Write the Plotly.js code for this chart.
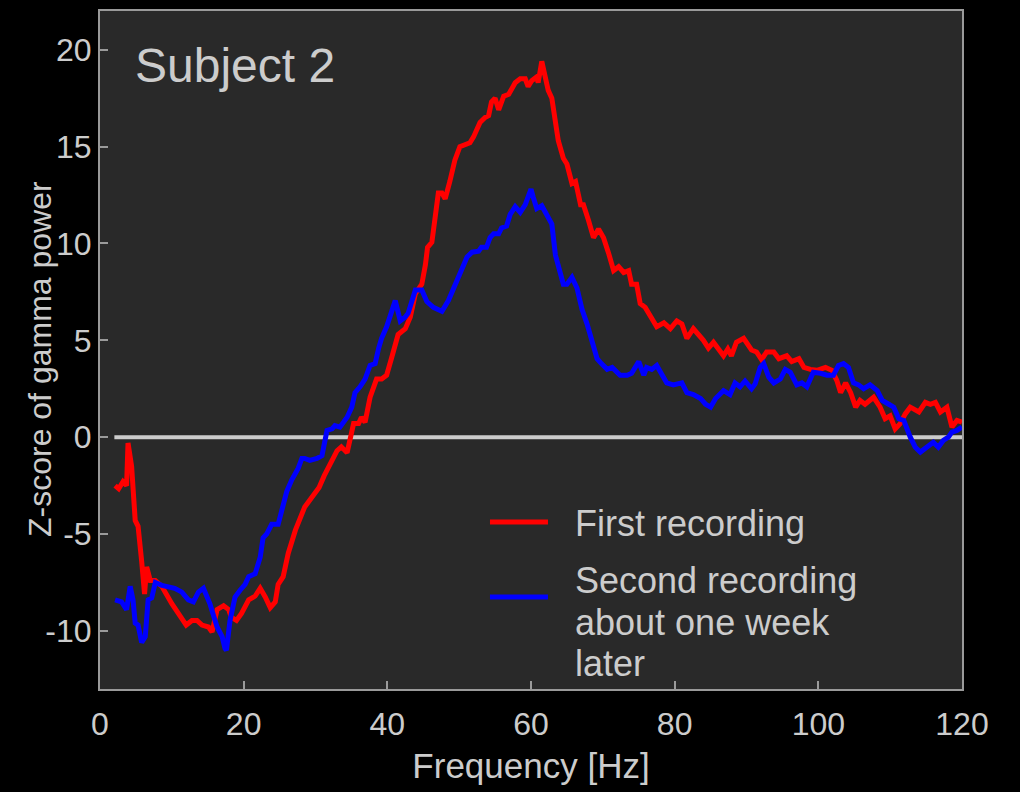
<!DOCTYPE html>
<html>
<head>
<meta charset="utf-8">
<script src="https://cdn.plot.ly/plotly-3.0.1.min.js"></script>
<style>html,body{margin:0;padding:0;background:#000;}#chart{width:1020px;height:792px;}</style>
</head>
<body>
<div id="chart"></div>
<script>
// First recording (red)
const firstFreq = [2.1,2.6,3.2,3.7,3.9,4.4,4.9,5.3,5.8,6.2,6.5,7.0,7.7,8.6,10.0,10.9,12.0,12.8,13.5,14.2,15.1,15.6,16.3,17.2,17.9,18.3,19.0,19.7,20.7,21.6,22.3,23.0,23.7,24.4,24.8,25.5,26.2,27.2,28.5,29.5,30.5,31.2,31.8,33.0,33.6,34.4,35.3,36.0,36.4,36.9,37.6,38.5,39.2,39.9,40.6,41.5,42.5,43.2,43.9,44.8,45.3,45.6,46.2,46.7,47.1,47.6,48.05,48.7,49.4,50.1,50.8,51.5,52.0,52.9,53.6,54.1,54.5,55.0,55.5,56.2,56.9,57.8,58.5,59.2,59.6,60.1,60.8,61.0,61.5,62.0,62.4,62.9,63.4,63.8,64.5,65.0,65.7,66.2,66.9,67.3,68.0,68.7,69.4,70.1,70.8,71.5,72.2,72.9,73.6,74.0,74.7,75.2,75.9,76.6,77.5,78.5,79.4,80.3,81.0,81.7,82.6,83.3,84.0,84.7,85.4,86.1,86.8,87.4,87.9,88.6,89.6,90.7,91.4,92.1,92.8,93.8,94.5,95.6,96.3,97.3,98.0,98.9,99.8,101.0,101.9,102.6,103.1,103.8,104.5,105.2,105.8,106.5,107.2,107.7,108.6,109.3,110.0,110.7,111.4,112.1,112.8,114.0,114.9,115.6,116.3,117.0,117.9,118.6,119.3,120];
const firstZ = [-2.5,-2.66,-2.3,-2.5,-0.3,-1.5,-4.3,-4.6,-6.4,-8.1,-6.7,-7.4,-7.4,-7.7,-8.6,-9.1,-9.7,-9.46,-9.46,-9.7,-9.8,-10.06,-8.9,-8.7,-8.9,-9.3,-9.46,-9.1,-8.4,-8.2,-7.8,-8.25,-8.8,-8.5,-7.6,-7.2,-6.0,-4.8,-3.6,-3.1,-2.6,-2.0,-1.6,-0.7,-0.5,-0.8,0.7,0.7,1.03,0.77,2.06,3.0,3.0,3.2,4.1,5.3,5.6,6.2,7.4,7.9,8.9,9.8,10.06,11.7,12.6,12.6,12.3,13.2,14.3,15.0,15.1,15.2,15.5,16.25,16.5,16.6,17.3,17.5,16.9,17.6,17.7,18.3,18.5,18.5,18.1,18.4,18.6,18.3,19.4,18.6,17.9,17.5,16.2,15.3,14.4,14.1,13.1,13.2,12.0,12.0,11.2,10.3,10.75,10.3,9.5,8.6,8.8,8.5,8.6,7.9,7.9,6.9,6.7,6.3,5.7,5.9,5.6,6.0,5.85,5.1,5.6,5.3,5.0,4.6,4.9,4.55,4.2,4.55,4.2,4.9,5.1,4.5,4.4,4.0,4.4,4.4,4.05,4.2,3.9,4.05,3.6,3.5,3.45,3.6,3.45,2.9,2.3,2.8,2.3,1.55,1.9,1.7,1.9,2.06,1.55,0.95,1.1,0.43,0.7,1.2,1.55,1.3,1.8,1.7,1.8,1.3,1.55,0.52,0.86,0.77];

// Second recording (blue)
const secondFreq = [2.1,3.0,3.7,4.2,4.6,4.9,5.3,5.8,6.3,6.7,7.2,7.7,8.6,10.4,11.4,12.3,13.0,13.7,14.4,15.3,16.3,17.0,17.4,17.6,18.1,18.8,19.5,20.2,20.7,21.6,22.3,22.7,23.2,23.9,24.8,25.5,26.0,26.7,27.6,28.1,28.5,29.2,30.2,30.9,31.6,32.3,32.7,33.4,34.4,35.05,35.5,36.2,36.9,37.6,38.3,38.8,39.2,39.9,40.6,41.1,41.8,42.5,42.9,43.9,44.8,45.5,46.4,47.6,48.5,49.2,50.1,51.1,51.8,52.7,53.1,53.8,54.3,54.8,55.5,55.9,56.6,57.1,57.8,58.5,59.2,59.7,60.0,60.3,60.8,61.5,62.2,62.9,63.4,63.8,64.5,65.0,65.7,66.4,67.1,67.8,68.5,69.2,69.8,70.6,71.3,72.4,73.4,74.0,75.0,75.7,76.1,76.8,77.5,78.2,78.9,79.8,81.0,81.7,82.6,83.6,84.3,85.0,85.7,86.8,87.7,88.4,89.1,89.8,90.7,91.2,91.9,92.4,93.1,93.8,94.7,95.4,96.1,97.0,97.7,98.4,99.3,100.3,101.2,102.1,102.8,103.5,104.2,104.9,105.6,106.3,107.2,108.2,108.9,109.8,110.5,111.2,111.9,112.8,113.5,114.2,115.1,116.0,116.7,117.4,118.1,118.6,119.3,120];
const secondZ = [-8.4,-8.5,-8.9,-7.7,-8.4,-9.6,-9.7,-10.6,-10.3,-8.4,-8.3,-7.5,-7.65,-7.8,-8.0,-8.4,-8.5,-8.0,-7.8,-8.6,-9.8,-10.3,-10.9,-11.0,-9.46,-8.25,-7.9,-7.6,-7.2,-7.05,-6.2,-5.2,-5.0,-4.5,-4.5,-3.6,-2.8,-2.2,-1.6,-1.1,-1.1,-1.2,-1.1,-0.95,0.35,0.43,0.6,0.52,1.03,1.55,2.3,2.6,3.0,3.7,3.8,4.6,5.1,5.7,6.6,7.05,6.0,6.2,6.4,7.6,7.6,7.0,6.7,6.5,7.05,7.7,8.4,9.3,9.55,9.6,9.8,9.8,10.3,10.5,10.5,10.8,10.9,11.5,11.9,11.6,12.0,12.6,12.8,12.4,11.8,11.95,11.5,11.0,9.4,8.8,7.9,7.9,8.25,7.7,6.6,5.85,5.0,4.05,3.8,3.5,3.6,3.2,3.2,3.3,3.9,3.2,3.6,3.5,3.7,3.3,2.8,2.7,2.8,2.3,2.2,2.0,1.7,1.55,2.0,2.4,2.2,2.8,2.6,2.9,2.5,2.75,3.6,3.8,3.1,2.8,3.0,3.5,3.35,2.7,2.8,2.6,3.35,3.3,3.2,3.2,3.7,3.8,3.6,2.8,2.7,2.5,2.7,2.4,1.9,1.7,1.55,0.95,0.86,0,-0.52,-0.77,-0.52,-0.26,-0.52,-0.17,0,0.26,0.35,0.52];

// zero reference line
const zeroFreq = [2, 120];
const zeroZ = [0, 0];

const xTicks = [0, 20, 40, 60, 80, 100, 120];
const yTicks = [-10, -5, 0, 5, 10, 15, 20];

const seriesNames = ['First recording', 'Second recording<br>about one week<br>later'];
const seriesColors = ['#ff0000', '#0000ff'];

const txt = '#cccccc';
const font = 'Liberation Sans, Arial, Helvetica, sans-serif';

const traces = [
  {x: zeroFreq, y: zeroZ, mode: 'lines', line: {color: '#cccccc', width: 4}, showlegend: false, hoverinfo: 'skip'},
  {x: firstFreq, y: firstZ, mode: 'lines', name: seriesNames[0], showlegend: false, line: {color: seriesColors[0], width: 5}},
  {x: secondFreq, y: secondZ, mode: 'lines', name: seriesNames[1], showlegend: false, line: {color: seriesColors[1], width: 5}}
];

// legend drawn as keys + text (layout positions in paper units)
const legendTextX = 0.5487, legendKeyX0 = 0.4524, legendKeyX1 = 0.5197;
const legendTextY = [0.2448, 0.1600];   // first text line centre of each entry
const legendKeyY = [0.2463, 0.1357];
const legendLineStep = 41.5;            // px between text lines

const annotations = [{
  text: 'Subject 2', xref: 'paper', yref: 'paper', x: 0.0383, y: 0.9617,
  xanchor: 'left', yanchor: 'top', showarrow: false,
  font: {family: font, size: 48, color: txt}
}, {
  text: 'Z-score of gamma power', xref: 'paper', yref: 'paper', x: -0.0696, y: 0.4867,
  xanchor: 'center', yanchor: 'middle', textangle: -90, showarrow: false,
  font: {family: font, size: 32, color: txt}
}];
const shapes = [];
seriesNames.forEach((name, i) => {
  name.split('<br>').forEach((line, k) => {
    annotations.push({
      text: line, xref: 'paper', yref: 'paper', x: legendTextX, y: legendTextY[i],
      yshift: -legendLineStep * k, xanchor: 'left', yanchor: 'middle', showarrow: false,
      font: {family: font, size: 36, color: txt}
    });
  });
  shapes.push({
    type: 'line', xref: 'paper', yref: 'paper', x0: legendKeyX0, x1: legendKeyX1,
    y0: legendKeyY[i], y1: legendKeyY[i], line: {color: seriesColors[i], width: 5}
  });
});

const axisCommon = {
  showgrid: false, zeroline: false, showline: true, mirror: true,
  linecolor: '#9a9a9a', linewidth: 2,
  ticks: 'inside', ticklen: 8, tickwidth: 2, tickcolor: '#9a9a9a',
  tickfont: {family: font, size: 32, color: txt}
};

const layout = {
  width: 1020, height: 792,
  paper_bgcolor: '#000000', plot_bgcolor: '#292929',
  margin: {l: 100, r: 58, t: 11, b: 103},
  font: {family: font, color: txt},
  showlegend: false,
  xaxis: Object.assign({}, axisCommon, {
    range: [0, 120], tickvals: xTicks, ticktext: xTicks.map(String),
    ticklabelstandoff: 6,
    title: {text: 'Frequency [Hz]', font: {family: font, size: 35, color: txt}, standoff: 12}
  }),
  yaxis: Object.assign({}, axisCommon, {
    range: [-13, 22], tickvals: yTicks, ticktext: yTicks.map(String),
    ticklabelstandoff: 0
  }),
  annotations: annotations,
  shapes: shapes
};

Plotly.newPlot('chart', traces, layout, {displayModeBar: false, staticPlot: true});
</script>
</body>
</html>
